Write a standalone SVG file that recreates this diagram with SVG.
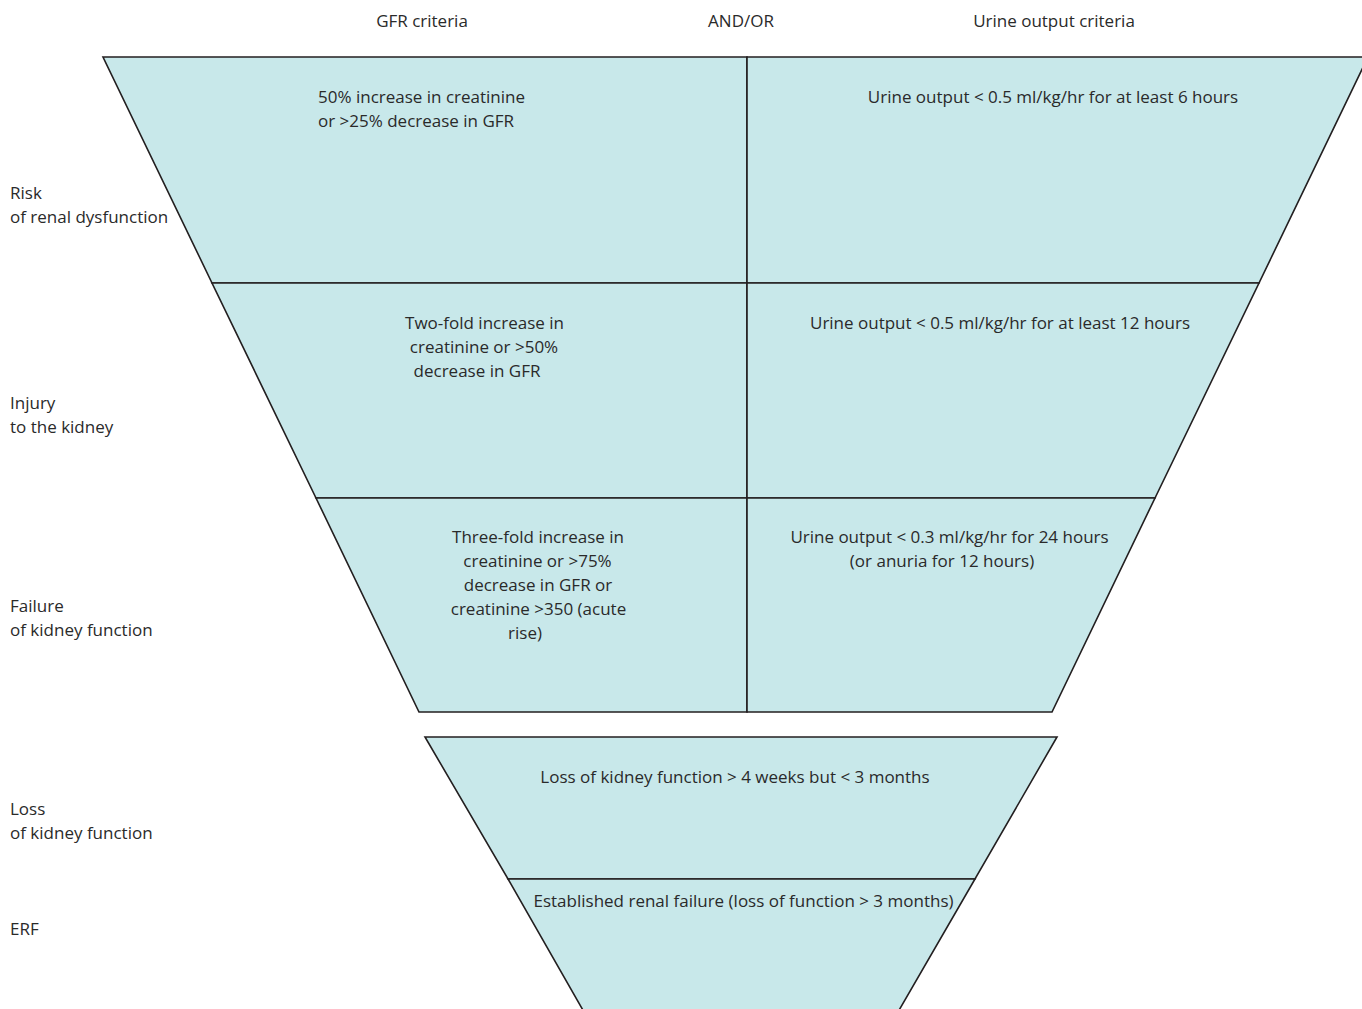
<svg xmlns="http://www.w3.org/2000/svg" width="1362" height="1009" viewBox="0 0 1362 1009">
<style>
.cell{fill:#c8e8ea;stroke:#231f20;stroke-width:1.6;stroke-linejoin:miter}
text{font-family:"Open Sans","Noto Sans","Liberation Sans",sans-serif;font-size:17px;fill:#2a2a2a}
.m{text-anchor:middle}
</style>
<rect width="1362" height="1009" fill="#ffffff"/>
<g id="headers">
<text class="m" x="422" y="27">GFR criteria</text>
<text class="m" x="741" y="27">AND/OR</text>
<text class="m" x="1054" y="27">Urine output criteria</text>
</g>
<g id="labels">
<text x="10" y="199">Risk</text>
<text x="10" y="223">of renal dysfunction</text>
<text x="10" y="409">Injury</text>
<text x="10" y="433">to the kidney</text>
<text x="10" y="612">Failure</text>
<text x="10" y="636">of kidney function</text>
<text x="10" y="815">Loss</text>
<text x="10" y="839">of kidney function</text>
<text x="10" y="935">ERF</text>
</g>
<g id="risk-gfr">
<polygon class="cell" points="103,57 747,57 747,283 212,283"/>
<text x="318" y="103">50% increase in creatinine</text>
<text x="318" y="127">or &gt;25% decrease in GFR</text>
</g>
<g id="risk-urine">
<polygon class="cell" points="747,57 1368,57 1259,283 747,283"/>
<text class="m" x="1053" y="103">Urine output &lt; 0.5 ml/kg/hr for at least 6 hours</text>
</g>
<g id="injury-gfr">
<polygon class="cell" points="212,283 747,283 747,498 316,498"/>
<text class="m" x="484.5" y="329">Two-fold increase in</text>
<text class="m" x="484" y="353">creatinine or &gt;50%</text>
<text class="m" x="477" y="377">decrease in GFR</text>
</g>
<g id="injury-urine">
<polygon class="cell" points="747,283 1259,283 1155,498 747,498"/>
<text class="m" x="1000" y="329">Urine output &lt; 0.5 ml/kg/hr for at least 12 hours</text>
</g>
<g id="failure-gfr">
<polygon class="cell" points="316,498 747,498 747,712 419,712"/>
<text class="m" x="538" y="543">Three-fold increase in</text>
<text class="m" x="537.5" y="567">creatinine or &gt;75%</text>
<text class="m" x="538" y="591">decrease in GFR or</text>
<text class="m" x="538.5" y="615">creatinine &gt;350 (acute</text>
<text class="m" x="525" y="639">rise)</text>
</g>
<g id="failure-urine">
<polygon class="cell" points="747,498 1155,498 1052,712 747,712"/>
<text class="m" x="949.5" y="543">Urine output &lt; 0.3 ml/kg/hr for 24 hours</text>
<text class="m" x="942" y="567">(or anuria for 12 hours)</text>
</g>
<g id="loss">
<polygon class="cell" points="425,737 1057,737 975,879 508,879"/>
<text class="m" x="735" y="783">Loss of kidney function &gt; 4 weeks but &lt; 3 months</text>
</g>
<g id="erf">
<polygon class="cell" points="508,879 975,879 898,1012 584,1012"/>
<text class="m" x="743.5" y="907">Established renal failure (loss of function &gt; 3 months)</text>
</g>
<g id="connectors"></g>
</svg>
